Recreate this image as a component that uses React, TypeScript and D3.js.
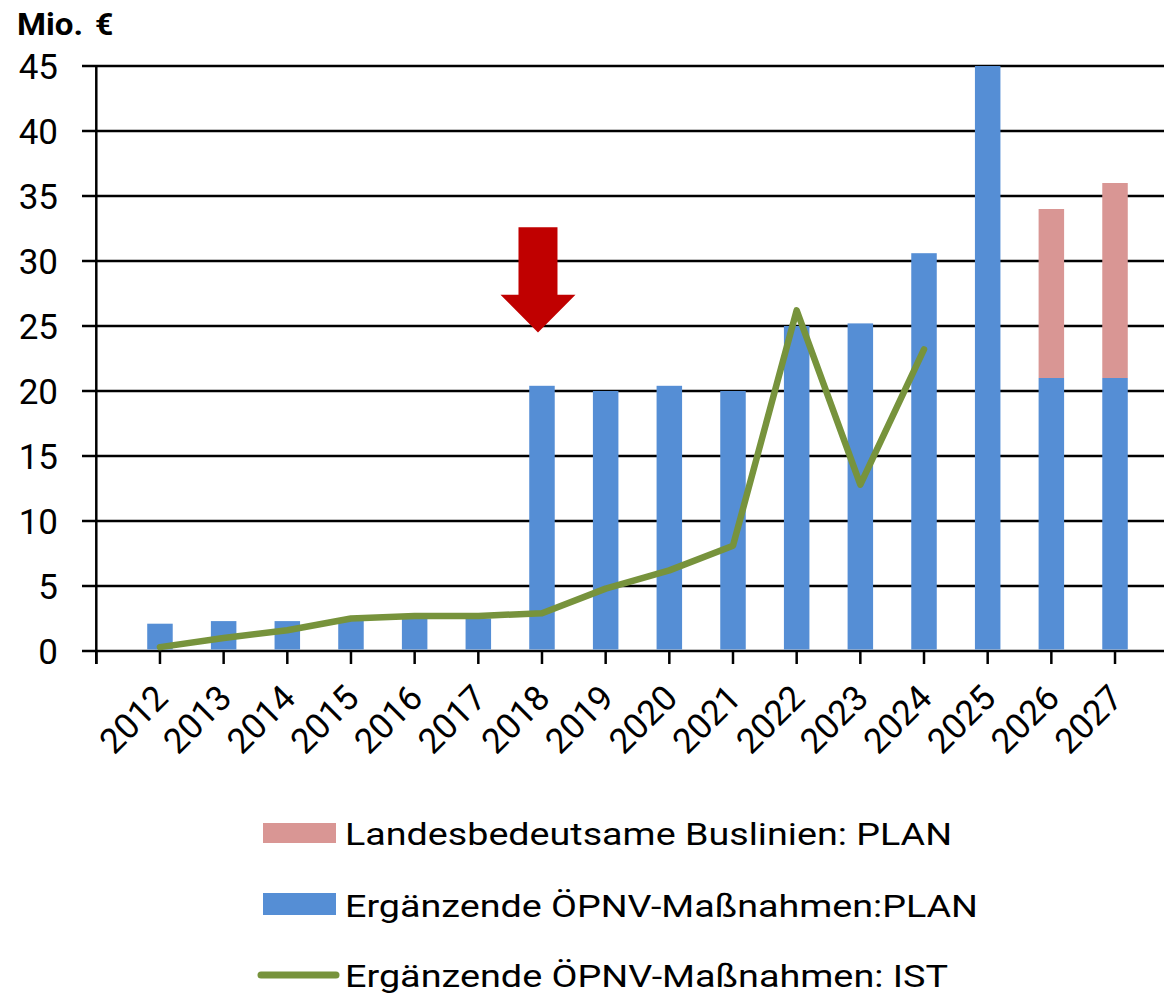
import React from "react";
import * as d3 from "d3";

const years = ["2012","2013","2014","2015","2016","2017","2018","2019","2020","2021","2022","2023","2024","2025","2026","2027"];
const ergPlan = [2.1, 2.3, 2.3, 2.4, 2.5, 2.5, 20.4, 20.0, 20.4, 20.0, 25.0, 25.2, 30.6, 45.0, 21.0, 21.0];
const busPlan = [0, 0, 0, 0, 0, 0, 0, 0, 0, 0, 0, 0, 0, 0, 13.0, 15.0];
const ergIst = [0.3, 1.0, 1.6, 2.5, 2.7, 2.7, 2.9, 4.8, 6.2, 8.1, 26.2, 12.8, 23.2];
const yTicks = [0, 5, 10, 15, 20, 25, 30, 35, 40, 45];
const legendLabels = [
  "Landesbedeutsame Buslinien: PLAN",
  "Ergänzende ÖPNV-Maßnahmen:PLAN",
  "Ergänzende ÖPNV-Maßnahmen: IST",
];
const arrowYear = "2018";

const W = 1164, H = 997;
const x0 = 96.3, step = 63.67;
const COL_BLUE = "#558ED5", COL_PINK = "#D99694", COL_GREEN = "#77933C", COL_RED = "#C00000";
const FONT = "Roboto, 'Noto Sans', sans-serif";

export default function App() {
  const x = d3.scalePoint<string>().domain(years).range([x0 + step, x0 + step * years.length]);
  const y = d3.scaleLinear().domain([0, 45]).range([651, 66]);
  const bw = 25.5;
  const tickXs = d3.range(0, years.length + 1).map((k) => x0 + k * step);

  const line = d3.line<number>()
    .x((_, i) => x(years[i])!)
    .y((d) => y(d));

  const ac = x(arrowYear)! - 4;
  const arrowPts: [number, number][] = [
    [ac - 19.5, y(32.6)],
    [ac + 19.5, y(32.6)],
    [ac + 19.5, y(27.4)],
    [ac + 37.5, y(27.4)],
    [ac, y(24.5)],
    [ac - 37.5, y(27.4)],
    [ac - 19.5, y(27.4)],
  ];

  const legendW = [607, 633, 603];

  return (
    <svg width={W} height={H} style={{ position: "absolute", left: 0, top: 0, background: "#fff" }} fontFamily={FONT}>
      <text x={17} y={35} fontSize={32} fontWeight="bold" fill="#000" textLength={66} lengthAdjust="spacingAndGlyphs">Mio.</text>
      <text x={95} y={35} fontSize={32} fontWeight="bold" fill="#000">€</text>
      {/* gridlines and y labels */}
      {yTicks.map((t) => (
        <g key={t}>
          <line x1={82} x2={W + 20} y1={y(t)} y2={y(t)} stroke="#000" strokeWidth={2.5} />
          <text x={58} y={y(t)} dy="0.36em" textAnchor="end" fontSize={35} fill="#000">{t}</text>
        </g>
      ))}
      {/* bars over gridlines */}
      {years.map((yr, i) => (
        <g key={"b" + yr}>
          <rect x={x(yr)! - bw / 2} y={y(ergPlan[i])} width={bw} height={y(0) - y(ergPlan[i]) - 1.5} fill={COL_BLUE} />
          {busPlan[i] > 0 && (
            <rect x={x(yr)! - bw / 2} y={y(ergPlan[i] + busPlan[i])} width={bw} height={y(ergPlan[i]) - y(ergPlan[i] + busPlan[i])} fill={COL_PINK} />
          )}
        </g>
      ))}
      {/* y axis */}
      <line x1={x0} x2={x0} y1={y(45)} y2={664} stroke="#000" strokeWidth={2.5} />
      {/* x ticks */}
      {tickXs.map((tx, k) => (
        <line key={k} x1={tx} x2={tx} y1={651} y2={664} stroke="#000" strokeWidth={2.5} />
      ))}
      {years.map((yr) => (
        <text key={"l" + yr} transform={`translate(${x(yr)! + 10},${700}) rotate(-45)`} textAnchor="end" fontSize={35} fill="#000">{yr}</text>
      ))}
      {/* IST line */}
      <path d={line(ergIst)!} fill="none" stroke={COL_GREEN} strokeWidth={6.5} strokeLinejoin="round" strokeLinecap="round" />
      {/* arrow */}
      <polygon points={arrowPts.map((p) => p.join(",")).join(" ")} fill={COL_RED} />
      {/* legend */}
      <rect x={263} y={823} width={73} height={20} fill={COL_PINK} />
      <text x={345} y={845} fontSize={32} fill="#000" textLength={legendW[0]} lengthAdjust="spacingAndGlyphs">{legendLabels[0]}</text>
      <rect x={263} y={893} width={73} height={22} fill={COL_BLUE} />
      <text x={345} y={917} fontSize={32} fill="#000" textLength={legendW[1]} lengthAdjust="spacingAndGlyphs">{legendLabels[1]}</text>
      <line x1={261} x2={336} y1={975} y2={975} stroke={COL_GREEN} strokeWidth={7} strokeLinecap="round" />
      <text x={345} y={987} fontSize={32} fill="#000" textLength={legendW[2]} lengthAdjust="spacingAndGlyphs">{legendLabels[2]}</text>
    </svg>
  );
}
